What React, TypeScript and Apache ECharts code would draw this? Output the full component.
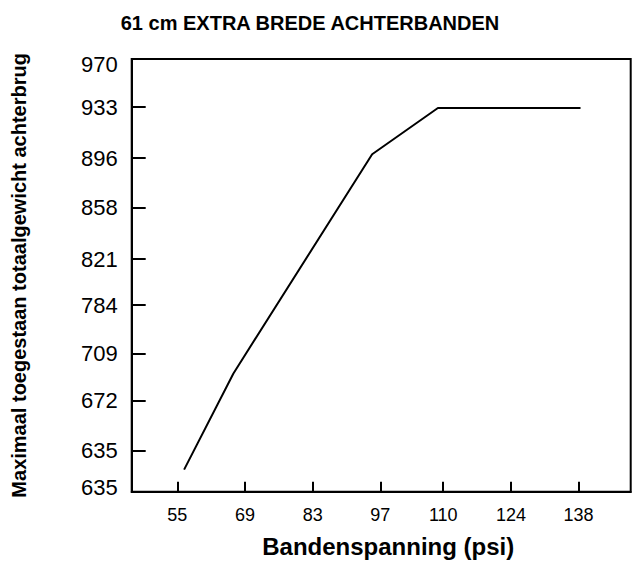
import React, { useEffect, useRef } from "react";
import * as echarts from "echarts";

const titleText = "61 cm EXTRA BREDE ACHTERBANDEN";
const xAxisTitle = "Bandenspanning (psi)";
const yAxisTitle = "Maximaal toegestaan totaalgewicht achterbrug";

// x axis: tyre pressure (psi)
const psiTicks = [55, 69, 83, 97, 110, 124, 138];
// y axis: tick labels and their levels on the chart's weight scale
const weightTickLabels = ["635", "635", "672", "709", "784", "821", "858", "896", "933", "970"];
const weightTickLevels = [0, 0.85, 1.9, 2.87, 3.88, 4.84, 5.91, 6.94, 8.0, 9];

// the curve
const curvePsi = [56.4, 66.6, 95.3, 108.9, 138.4];
const curveLevel = [0.46, 2.46, 7.02, 7.98, 7.98];

const FONT = "'Liberation Sans', Arial, Helvetica, sans-serif";

export default function App() {
  const ref = useRef<HTMLDivElement>(null);

  useEffect(() => {
    if (!ref.current) return;
    const chart = echarts.init(ref.current, null, { renderer: "svg" });
    const data = curvePsi.map((p, i) => [p, curveLevel[i]]);
    const lastIdx = weightTickLabels.length - 1;
    chart.setOption({
      animation: false,
      backgroundColor: "#fff",
      title: {
        text: titleText,
        left: 305,
        textAlign: "center",
        top: 8,
        textStyle: { fontFamily: FONT, fontSize: 20, fontWeight: "bold", color: "#000" },
      },
      grid: {
        left: 131.7,
        right: 1.3,
        top: 59,
        bottom: 69.3,
        containLabel: false,
        outerBoundsMode: "none",
        show: true,
        borderColor: "#000",
        borderWidth: 2,
        backgroundColor: "transparent",
      },
      xAxis: {
        type: "value",
        min: 45.56,
        max: 148.78,
        name: xAxisTitle,
        nameLocation: "middle",
        nameGap: 43,
        nameTextStyle: {
          fontFamily: FONT,
          fontSize: 24,
          lineHeight: 24,
          fontWeight: "bold",
          color: "#000",
          padding: [0, 0, 0, 14],
        },
        axisLine: { show: true, lineStyle: { color: "#000", width: 2 } },
        axisTick: {
          show: true,
          inside: true,
          length: 10,
          customValues: psiTicks,
          lineStyle: { color: "#000", width: 2 },
        },
        axisLabel: {
          customValues: psiTicks,
          margin: 14,
          fontFamily: FONT,
          fontSize: 18,
          color: "#000",
          formatter: (v: number) => String(Math.round(v)),
        },
        splitLine: { show: false },
      },
      yAxis: {
        type: "value",
        min: 0,
        max: 9,
        name: yAxisTitle,
        nameLocation: "middle",
        nameGap: 103,
        nameTextStyle: { fontFamily: FONT, fontSize: 20, fontWeight: "bold", color: "#000" },
        axisLine: { show: true, lineStyle: { color: "#000", width: 2 } },
        axisTick: {
          show: true,
          inside: true,
          length: 14,
          customValues: weightTickLevels,
          lineStyle: { color: "#000", width: 2 },
        },
        axisLabel: {
          customValues: weightTickLevels,
          margin: 14,
          fontFamily: FONT,
          fontSize: 22,
          color: "#000",
          formatter: (v: number) => {
            const i = weightTickLevels.indexOf(v);
            const label = i >= 0 ? weightTickLabels[i] : "";
            if (i === 0) return `{b|${label}}`;
            if (i === lastIdx) return `{t|${label}}`;
            return label;
          },
          rich: {
            b: { fontFamily: FONT, fontSize: 22, color: "#000", padding: [0, 0, 8, 0] },
            t: { fontFamily: FONT, fontSize: 22, color: "#000", padding: [10, 0, 0, 0] },
          },
        },
        splitLine: { show: false },
      },
      series: [
        {
          type: "line",
          data,
          symbol: "none",
          lineStyle: { color: "#000", width: 2 },
        },
      ],
    });
    return () => chart.dispose();
  }, []);

  return (
    <div
      ref={ref}
      style={{ position: "absolute", left: 0, top: 0, width: 632, height: 561 }}
    />
  );
}
